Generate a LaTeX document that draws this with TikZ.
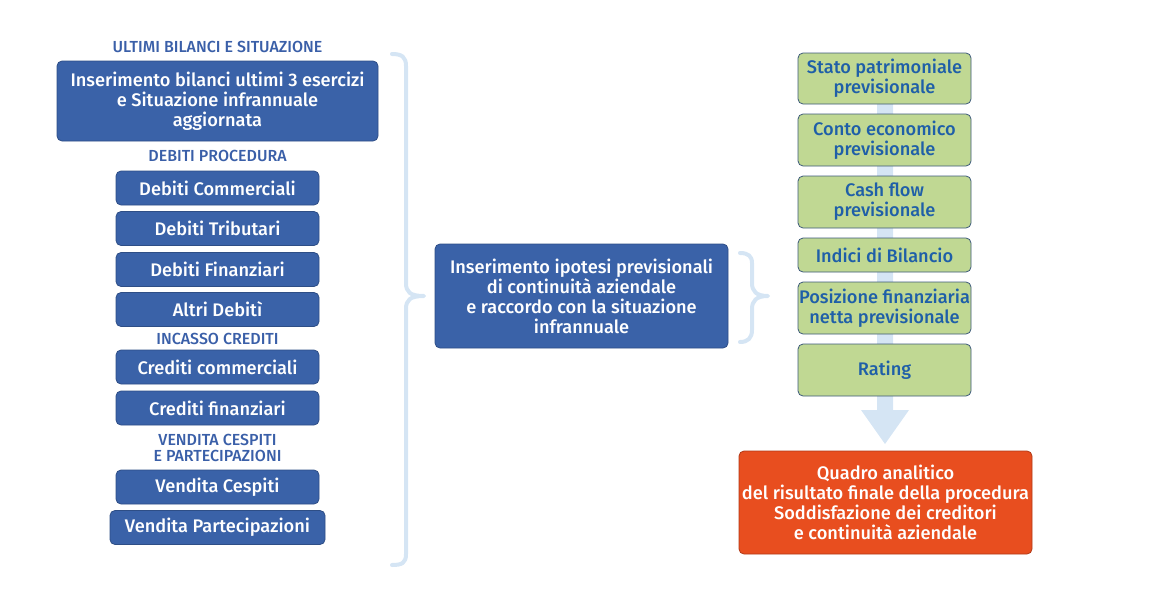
\documentclass[tikz,border=0pt]{standalone}
\usepackage{fontspec}
\setmainfont{Fira Sans}[UprightFont=* Medium]
\definecolor{boxblue}{HTML}{3A62A8}
\definecolor{boxblueb}{HTML}{2E4E86}
\definecolor{lbl}{HTML}{3A5FA8}
\definecolor{gfill}{HTML}{C0D893}
\definecolor{gtext}{HTML}{1F5FA8}
\definecolor{gborder}{HTML}{3D5A7A}
\definecolor{brc}{HTML}{D5E5F4}
\definecolor{orng}{HTML}{E84E1F}
\definecolor{orngb}{HTML}{B03A18}
\begin{document}
\begin{tikzpicture}[x=1pt,y=-1pt,
  bluebox/.style={draw=boxblueb,fill=boxblue,rounded corners=5pt,line width=0.8pt,text=white,
    font=\fontsize{18.2}{20}\selectfont,align=center,inner sep=0pt},
  greenbox/.style={draw=gborder,fill=gfill,rounded corners=5pt,line width=0.8pt,text=gtext,
    font=\fontsize{18.2}{20}\selectfont,align=center,inner sep=0pt,minimum width=173pt},
  head/.style={text=lbl,font=\fontsize{16}{16}\selectfont,align=center,inner sep=0pt},
  brace/.style={draw=brc,line width=4pt,line cap=round,line join=round}]
\useasboundingbox (0,0) rectangle (1159,597);
% big arrow behind green boxes
\fill[brc] (877,100) -- (893,100) -- (893,410) -- (909,410) -- (885,444) -- (861,410) -- (877,410) -- cycle;
% left column
\node[head] (h1) at (217.5,47) {ULTIMI BILANCI E SITUAZIONE};
\node[bluebox,minimum width=321pt,minimum height=80pt] (b0) at (217.5,101)
  {Inserimento bilanci ultimi 3 esercizi\\e Situazione infrannuale\\aggiornata};
\node[head] (h2) at (217.5,156) {DEBITI PROCEDURA};
\node[bluebox,minimum width=203pt,minimum height=34pt] (b1) at (217.5,188) {Debiti Commerciali};
\node[bluebox,minimum width=203pt,minimum height=34pt] (b2) at (217.5,228.5) {Debiti Tributari};
\node[bluebox,minimum width=203pt,minimum height=34pt] (b3) at (217.5,269.5) {Debiti Finanziari};
\node[bluebox,minimum width=203pt,minimum height=34pt] (b4) at (217.5,309.5) {Altri Debitì};
\node[head] (h3) at (217.5,339) {INCASSO CREDITI};
\node[bluebox,minimum width=203pt,minimum height=34pt] (b5) at (217.5,367) {Crediti commerciali};
\node[bluebox,minimum width=203pt,minimum height=34pt] (b6) at (217.5,408) {Crediti finanziari};
\node[head] (h4) at (217.5,448) {VENDITA CESPITI\\E PARTECIPAZIONI};
\node[bluebox,minimum width=203pt,minimum height=34pt] (b7) at (217.5,487) {Vendita Cespiti};
\node[bluebox,minimum width=215pt,minimum height=34pt] (b8) at (217.5,527.5) {Vendita Partecipazioni};
% big brace
\draw[brace] (392,54) .. controls (402,54) and (406,57) .. (406,66) -- (406,283)
  .. controls (406,292) and (410,296) .. (424,296)
  .. controls (410,296) and (406,300) .. (406,309) -- (406,554)
  .. controls (406,563) and (402,565) .. (392,565);
% middle box
\node[bluebox,minimum width=293pt,minimum height=104pt] (m) at (581.5,296)
  {Inserimento ipotesi previsionali\\di continuità aziendale\\e raccordo con la situazione\\infrannuale};
% small brace
\draw[brace] (740,253) .. controls (748,253) and (752,256) .. (752,263) -- (752,283)
  .. controls (752,291) and (756,296) .. (768,296)
  .. controls (756,296) and (752,301) .. (752,309) -- (752,330)
  .. controls (752,338) and (748,342) .. (740,342);
% right column
\node[greenbox,minimum height=51pt] (g1) at (884.5,78.5) {Stato patrimoniale\\previsionale};
\node[greenbox,minimum height=52pt] (g2) at (884.5,140) {Conto economico\\previsionale};
\node[greenbox,minimum height=52pt] (g3) at (884.5,202) {Cash flow\\previsionale};
\node[greenbox,minimum height=34pt] (g4) at (884.5,255) {Indici di Bilancio};
\node[greenbox,minimum height=52pt] (g5) at (884.5,308) {Posizione finanziaria\\netta previsionale};
\node[greenbox,minimum height=52pt] (g6) at (884.5,370) {Rating};
% final box
\node[draw=orngb,fill=orng,rounded corners=5pt,line width=0.8pt,text=white,
  font=\fontsize{18.2}{20}\selectfont,align=center,inner sep=0pt,
  minimum width=293pt,minimum height=103pt] (q) at (885.5,502.5)
  {Quadro analitico\\del risultato finale della procedura\\Soddisfazione dei creditori\\e continuità aziendale};
\end{tikzpicture}
\end{document}
